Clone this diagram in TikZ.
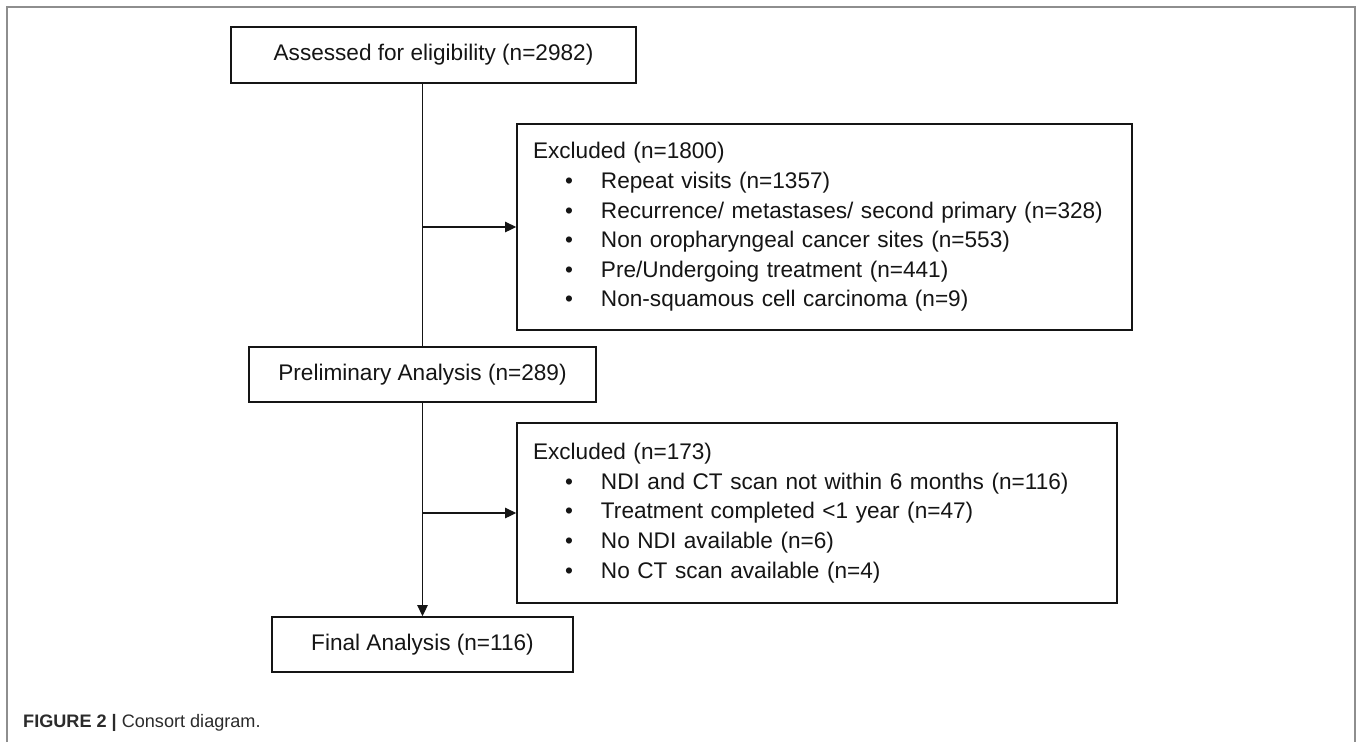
\documentclass[tikz,border=0pt]{standalone}
\usepackage{fontspec}
\setmainfont{Liberation Sans}
\newfontfamily\capfont{Liberation Sans}
\usetikzlibrary{arrows.meta}

\definecolor{ink}{HTML}{151515}
\definecolor{framec}{HTML}{8E8E8E}
\definecolor{capc}{HTML}{2B2B2B}

% one bulleted entry inside an exclusion box
\newcommand\litem[1]{\hspace*{32pt}\makebox[36pt][l]{\textbullet}#1}

\tikzset{
  box/.style={draw=ink, line width=1.8pt, inner xsep=0pt, inner ysep=0pt,
              text=ink, font=\fontsize{22.6}{29.6}\selectfont},
  listbox/.style={box, align=left, inner xsep=16pt},
  conn/.style={draw=ink, line width=1.3pt},
  arrow/.style={conn, -{Triangle[length=11pt,width=10.5pt]}},
  framel/.style={draw=framec, line width=1.6pt}
}

\begin{document}
\begin{tikzpicture}[x=1pt, y=-1pt]
  \fill[white] (0,0) rectangle (1357,742);
  \useasboundingbox (0,0) rectangle (1357,742);

  % panel frame
  \draw[framel] (7,742) -- (7,7) -- (1355,7) -- (1355,742);

  % main flow
  \node[box, minimum width=405pt, minimum height=56pt] (assess) at (433.5,55)
    {Assessed for eligibility (n=2982)};
  \node[box, minimum width=347pt, minimum height=55pt] (prelim) at (422.5,374.5)
    {Preliminary Analysis (n=289)};
  \node[box, minimum width=301pt, minimum height=55pt] (final) at (422.5,644.5)
    {Final Analysis (n=116)};

  % exclusion boxes
  \node[listbox, text width=583pt, minimum height=206pt] (excl1) at (824.5,227)
    {Excluded (n=1800)\\
     \litem{Repeat visits (n=1357)}\\
     \litem{Recurrence/ metastases/ second primary (n=328)}\\
     \litem{Non oropharyngeal cancer sites (n=553)}\\
     \litem{Pre/Undergoing treatment (n=441)}\\
     \litem{Non-squamous cell carcinoma (n=9)}};
  \node[listbox, text width=568pt, minimum height=180pt] (excl2) at (817,513)
    {Excluded (n=173)\\
     \litem{NDI and CT scan not within 6 months (n=116)}\\
     \litem{Treatment completed <1 year (n=47)}\\
     \litem{No NDI available (n=6)}\\
     \litem{No CT scan available (n=4)}};

  % connectors
  \draw[conn] (prelim.north |- assess.south) -- (prelim.north);
  \draw[arrow] (prelim.north |- excl1.west) -- (excl1.west);
  \draw[arrow] (prelim.south) -- (final.north);
  \draw[arrow] (prelim.south |- excl2.west) -- (excl2.west);

  % caption
  \node[anchor=base west, inner sep=0pt, text=capc,
        font=\capfont\fontsize{18.1}{20}\selectfont] (caption) at (23,727)
    {\textbf{FIGURE 2 |} Consort diagram.};
\end{tikzpicture}
\end{document}
